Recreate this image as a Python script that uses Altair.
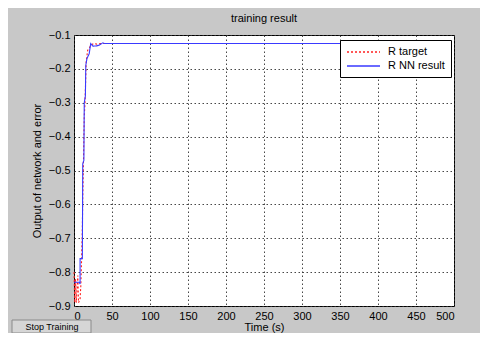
import altair as alt
import pandas as pd

# Data
nn_t = [0, 7, 8, 8, 11, 11.5, 13, 13.5, 15, 15.5, 17, 20, 22, 25, 30, 33, 38, 40, 350]
nn_y = [-0.83, -0.83, -0.835, -0.76, -0.76, -0.48, -0.47, -0.30, -0.28, -0.19, -0.17, -0.155,
        -0.125, -0.133, -0.132, -0.13, -0.123, -0.125, -0.125]
tg_t = [0, 1, 2, 3, 5, 6, 8, 9, 10, 11, 11.5, 12.5, 13.5, 14.5, 16, 18, 20, 22, 26, 30, 35, 350]
tg_y = [-0.80, -0.89, -0.82, -0.89, -0.81, -0.89, -0.88, -0.84, -0.76, -0.67, -0.58, -0.47,
        -0.34, -0.30, -0.18, -0.145, -0.14, -0.13, -0.125, -0.127, -0.125, -0.125]
series_names = ["R target", "R NN result"]
x_ticks = [0, 50, 100, 150, 200, 250, 300, 350, 400, 450, 500]
y_ticks = [-0.9, -0.8, -0.7, -0.6, -0.5, -0.4, -0.3, -0.2, -0.1]

rows = []
for i, (t, y) in enumerate(zip(tg_t, tg_y)):
    rows.append({"series": series_names[0], "t": t, "y": y, "o": i})
for i, (t, y) in enumerate(zip(nn_t, nn_y)):
    rows.append({"series": series_names[1], "t": t, "y": y, "o": i})
df = pd.DataFrame(rows)

FONT = "Liberation Sans"

lines = alt.Chart(df).mark_line(strokeWidth=1.1).encode(
    x=alt.X("t:Q", scale=alt.Scale(domain=[0, 500], nice=False, zero=False),
            axis=alt.Axis(values=x_ticks, title="Time (s)", grid=True, format="d",
                          titlePadding=0)),
    y=alt.Y("y:Q", scale=alt.Scale(domain=[-0.9, -0.1], nice=False, zero=False),
            axis=alt.Axis(values=y_ticks, title="Output of network and error", grid=True,
                          format=".1f", titlePadding=6)),
    color=alt.Color("series:N", scale=alt.Scale(domain=series_names, range=["#ff2020", "#3a3aff"]),
                    legend=alt.Legend(title=None, orient="none", legendX=266, legendY=5,
                                      fillColor="white", strokeColor="black", padding=6,
                                      symbolType="M-1,0H5.6", symbolSize=100,
                                      symbolStrokeWidth=1.5,
                                      labelFont=FONT, labelFontSize=11, labelColor="black",
                                      rowPadding=3, labelOffset=30)),
    strokeDash=alt.StrokeDash("series:N", scale=alt.Scale(domain=series_names, range=[[2, 2], [1, 0]]),
                              legend=None),
    order="o:Q",
)

one = pd.DataFrame({"a": [0]})
button = alt.Chart(one).mark_rect(fill="#d6d6d6", stroke="#8a8a8a", strokeWidth=1).encode(
    x=alt.value(-62), x2=alt.value(17), y=alt.value(285), y2=alt.value(298))
button_text = alt.Chart(one).mark_text(text="Stop Training", font=FONT, fontSize=9,
                                       color="black").encode(
    x=alt.value(-22), y=alt.value(292))

chart = alt.layer(lines, button, button_text).properties(
    width=380, height=271,
    title=alt.TitleParams("training result", font=FONT, fontSize=11, fontWeight="normal",
                          color="black", offset=5),
    background="#c8c8c8",
    padding={"left": 66, "top": 27, "right": 26, "bottom": 27},
    autosize=alt.AutoSizeParams(type="none"),
).configure_view(
    fill="white", stroke="black", strokeWidth=1
).configure_axis(
    labelFont=FONT, labelFontSize=11, labelColor="black", titleFont=FONT, titleFontSize=11,
    titleFontWeight="normal", titleColor="black", gridColor="#333333", gridDash=[1.5, 2.5],
    gridOpacity=0.9, gridWidth=1, domain=False, ticks=False, labelPadding=4,
)

chart.save("out.html", embed_options={"renderer": "svg", "actions": False})
